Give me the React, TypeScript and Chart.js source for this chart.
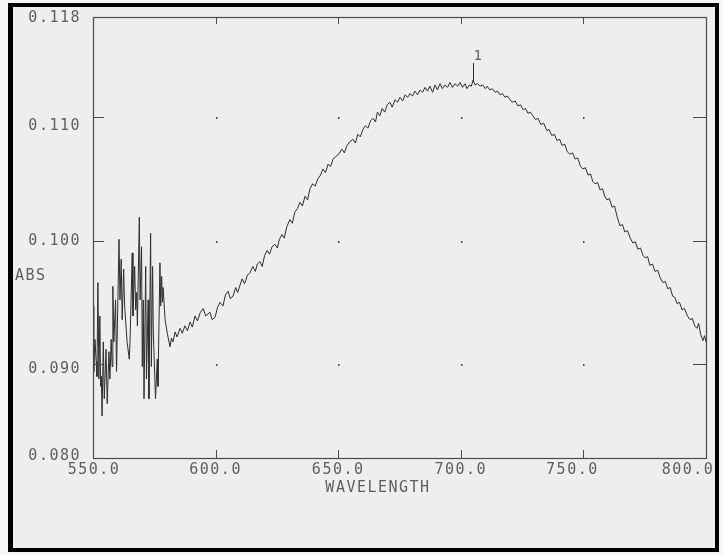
import React, { useEffect, useRef } from "react";
import { Chart, registerables } from "chart.js";

Chart.register(...registerables);

// ---- Data ----
const xTickValues = [550, 600, 650, 700, 750, 800];
const yTickValues = [0.0824, 0.09, 0.1, 0.11, 0.1181];
const yTickLabels = ["0.080", "0.090", "0.100", "0.110", "0.118"];
const xAxisTitle = "WAVELENGTH";
const yAxisTitle = "ABS";
const peakWavelength = 705.0;
const peakAbs = 0.113;
const peakLabel = "1";

// noisy start of the scan (550 – 578 nm)
const noiseWavelength = [
  550.0, 550.3, 550.8, 551.3, 551.6, 552.0, 552.4, 552.8, 553.1, 553.4, 553.7,
  554.2, 554.6, 555.3, 555.8, 556.5, 556.9, 557.4, 557.8, 558.1, 558.5, 559.2,
  559.6, 560.6, 561.0, 561.5, 561.9, 562.5, 562.9, 563.9, 564.8, 565.1, 566.0,
  566.3, 567.0, 567.4, 567.8, 568.1, 568.9, 569.2, 569.8, 570.1, 570.5, 570.8,
  571.5, 571.8, 572.5, 572.8, 573.5, 573.8, 574.3, 574.6, 575.5, 576.2, 576.5,
  577.3, 577.6, 578.0, 578.3, 578.6,
];
const noiseAbs = [
  0.0947, 0.0894, 0.092, 0.0902, 0.089, 0.0966, 0.0888, 0.0939, 0.0882, 0.089, 0.0858,
  0.0918, 0.0872, 0.0912, 0.0868, 0.091, 0.0888, 0.092, 0.0898, 0.0963, 0.0918, 0.0952,
  0.0894, 0.1001, 0.0952, 0.0985, 0.0936, 0.0977, 0.0947, 0.0918, 0.0904, 0.0918, 0.099,
  0.0939, 0.0979, 0.0944, 0.0958, 0.0931, 0.1019, 0.0952, 0.0995, 0.0898, 0.0952, 0.0872,
  0.0979, 0.0888, 0.0952, 0.0872, 0.1006, 0.0898, 0.0979, 0.0926, 0.0872, 0.0904, 0.0882,
  0.0982, 0.0947, 0.0971, 0.095, 0.0962,
];

// absorption band (579 – 800 nm)
const bandWavelength = [
  579.4, 580.3, 581.4, 582.0, 582.6, 583.5, 584.3, 585.5, 586.4, 587.5, 588.5, 589.6,
  590.5, 591.6, 592.6, 593.8, 594.9, 596.0, 597.7, 598.6, 599.8, 600.8, 601.8, 603.0,
  604.0, 605.1, 606.0, 607.1, 608.2, 609.0, 610.8, 611.8, 613.0, 614.0, 615.2, 616.2,
  617.0, 618.1, 619.0, 620.0, 621.0, 622.0, 623.0, 624.2, 625.2, 626.0, 627.1, 628.0,
  629.0, 630.3, 631.3, 632.3, 633.4, 634.4, 635.4, 636.5, 637.5, 638.5, 639.6, 640.6,
  641.7, 642.8, 643.8, 644.8, 645.9, 646.9, 647.9, 649.0, 650.2, 651.5, 652.5, 653.6,
  654.7, 656.0, 657.0, 658.0, 659.0, 660.1, 661.1, 662.1, 663.2, 664.2, 665.2, 666.0,
  667.0, 667.9, 669.0, 670.0, 671.1, 672.0, 673.2, 674.2, 675.2, 676.3, 677.3, 678.3,
  679.3, 680.3, 681.3, 682.4, 683.4, 684.4, 685.4, 686.4, 687.4, 688.5, 689.5, 690.5,
  691.5, 692.5, 693.6, 694.6, 695.6, 696.6, 697.6, 698.7, 699.7, 700.7, 701.7, 702.5,
  703.5, 704.3, 705.0, 705.8, 706.8, 707.9, 708.9, 710.0, 710.7, 711.8, 712.8, 714.0,
  715.0, 716.0, 717.0, 718.0, 719.0, 720.1, 721.0, 722.2, 723.3, 724.3, 725.4, 726.4,
  727.4, 728.4, 729.4, 730.5, 731.5, 732.6, 733.8, 735.1, 736.0, 737.1, 738.2, 739.2,
  740.3, 741.3, 742.4, 743.4, 744.5, 745.6, 746.6, 747.7, 748.8, 749.8, 750.8, 751.9,
  752.9, 753.8, 754.7, 755.8, 756.8, 757.8, 758.7, 759.6, 760.6, 761.7, 762.7, 763.8,
  764.9, 765.9, 766.9, 768.0, 769.1, 770.2, 771.2, 772.2, 773.3, 774.3, 775.2, 776.2,
  777.1, 778.2, 779.2, 780.3, 781.3, 782.4, 783.4, 784.4, 785.4, 786.4, 787.3, 788.2,
  789.2, 790.2, 791.2, 792.4, 793.5, 794.4, 795.4, 796.3, 797.0, 797.8, 798.8, 799.4,
  800.0,
];
const bandAbs = [
  0.0936, 0.0925, 0.0914, 0.0921, 0.0918, 0.0926, 0.0922, 0.0929, 0.0925, 0.0931, 0.0927, 0.0934,
  0.093, 0.0939, 0.0935, 0.0942, 0.0945, 0.0939, 0.0942, 0.0936, 0.0938, 0.0946, 0.095, 0.0947,
  0.0956, 0.0959, 0.0953, 0.0955, 0.0962, 0.0958, 0.0969, 0.0965, 0.0972, 0.0974, 0.0979, 0.0975,
  0.0981, 0.0983, 0.0979, 0.0988, 0.0992, 0.0989, 0.0995, 0.0997, 0.0994, 0.1001, 0.1005, 0.1002,
  0.1011, 0.1017, 0.1014, 0.1023, 0.1026, 0.1031, 0.1028, 0.1036, 0.1033, 0.1042, 0.1046, 0.1044,
  0.105, 0.1053, 0.1058, 0.1055, 0.1062, 0.106, 0.1066, 0.1068, 0.107, 0.1074, 0.1071, 0.1077,
  0.108, 0.1082, 0.1079, 0.1086, 0.1084, 0.109, 0.1093, 0.1091, 0.1097, 0.1099, 0.1096, 0.1104,
  0.1101, 0.1107, 0.1104, 0.111, 0.1112, 0.1108, 0.1114, 0.1112, 0.1116, 0.1113, 0.1118, 0.1116,
  0.1119, 0.1117, 0.1121, 0.1118, 0.1122, 0.112, 0.1124, 0.1121, 0.1125, 0.112, 0.1126, 0.1122,
  0.1127, 0.1123, 0.1126, 0.1124, 0.1128, 0.1124, 0.1127, 0.1125, 0.1128, 0.1124, 0.1127, 0.1123,
  0.1126, 0.1125, 0.113, 0.1126, 0.1127, 0.1125, 0.1126, 0.1123, 0.1125, 0.1122, 0.1123, 0.112,
  0.1121, 0.1118, 0.1119, 0.1116, 0.1117, 0.1114, 0.1112, 0.1113, 0.1109, 0.111, 0.1106, 0.1107,
  0.1103, 0.1104, 0.1101, 0.1098, 0.1099, 0.1094, 0.1095, 0.1089, 0.109, 0.1085, 0.1086, 0.1081,
  0.1082, 0.1077, 0.1078, 0.1072, 0.107, 0.1071, 0.1066, 0.1067, 0.106, 0.1058, 0.1059, 0.1053,
  0.1054, 0.1048, 0.1046, 0.1047, 0.1041, 0.1042, 0.1036, 0.1033, 0.1034, 0.1027, 0.1028, 0.1019,
  0.1012, 0.1013, 0.1007, 0.1008, 0.1002, 0.0998, 0.0999, 0.0993, 0.0994, 0.0988, 0.0986, 0.0987,
  0.098, 0.0981, 0.0975, 0.0976, 0.097, 0.0966, 0.0967, 0.0961, 0.0962, 0.0955, 0.0954, 0.0949,
  0.095, 0.0944, 0.0945, 0.0939, 0.0936, 0.0937, 0.0931, 0.0929, 0.0933, 0.0924, 0.0919, 0.0923,
  0.0918,
];

// ---- styling (not data) ----
const FONT = "'DejaVu Sans Mono', 'Liberation Mono', monospace";
const INK = "#2e2e2e";
const TEXT = "#5e5e5e";
const AXIS = "#4a4a4a";
const W = 723;
const H = 555;
const X_LABEL_NUDGE = [1, 0, 0, 0, -11, -18];
const Y_LABEL_NUDGE = [-2, 5, 1, 9, 1];

const paperPlugin = {
  id: "paper",
  beforeDraw(chart: any) {
    const ctx = chart.ctx;
    ctx.save();
    ctx.fillStyle = "#f6f6f4";
    ctx.fillRect(0, 0, W, H);
    ctx.fillStyle = "#eeeeec";
    ctx.fillRect(12, 7, 704, 542);
    ctx.fillStyle = "#000";
    ctx.fillRect(8, 3, 5, H - 6); // left
    ctx.fillRect(8, 3, W - 13, 4); // top
    ctx.fillRect(W - 8, 3, 4, H - 6); // right
    ctx.fillRect(8, H - 7, W - 12, 4); // bottom
    ctx.restore();
    // printer-like wide letter spacing for all text
    try {
      (ctx as any).letterSpacing = "1.5px";
    } catch (e) {}
    // nudge tick label positions to match the plotter output
    try {
      const xi = chart.scales.x.getLabelItems(chart.chartArea);
      xi.forEach((it: any, i: number) => {
        it.options.translation[0] += X_LABEL_NUDGE[i] || 0;
      });
      const yi = chart.scales.y.getLabelItems(chart.chartArea);
      yi.forEach((it: any, i: number) => {
        it.options.translation[1] += Y_LABEL_NUDGE[i] || 0;
      });
    } catch (e) {}
  },
  afterDraw(chart: any) {
    const ctx = chart.ctx;
    const { left, right, top, bottom } = chart.chartArea;
    const xs = chart.scales.x;
    const ys = chart.scales.y;
    ctx.save();
    // frame
    ctx.strokeStyle = AXIS;
    ctx.lineWidth = 1.2;
    ctx.strokeRect(left + 0.5, top + 0.5, right - left, bottom - top);
    // inward ticks & grid dots
    ctx.lineWidth = 1;
    const innerX = xTickValues.slice(1, -1);
    const innerY = yTickValues.slice(1, -1);
    innerX.forEach((v) => {
      const px = Math.round(xs.getPixelForValue(v)) + 0.5;
      ctx.beginPath();
      ctx.moveTo(px, bottom);
      ctx.lineTo(px, bottom - 8);
      ctx.moveTo(px, top);
      ctx.lineTo(px, top + 7);
      ctx.stroke();
    });
    innerY.forEach((v) => {
      const py = Math.round(ys.getPixelForValue(v)) + 0.5;
      ctx.beginPath();
      ctx.moveTo(left, py);
      ctx.lineTo(left + 11, py);
      ctx.moveTo(right, py);
      ctx.lineTo(right - 13, py);
      ctx.stroke();
    });
    ctx.fillStyle = AXIS;
    innerX.forEach((xv) => {
      innerY.forEach((yv) => {
        ctx.fillRect(Math.round(xs.getPixelForValue(xv)), Math.round(ys.getPixelForValue(yv)), 1.5, 2);
      });
    });
    // peak marker
    const pxp = Math.round(xs.getPixelForValue(peakWavelength)) + 0.5;
    const pyp = ys.getPixelForValue(peakAbs);
    ctx.strokeStyle = INK;
    ctx.beginPath();
    ctx.moveTo(pxp, pyp);
    ctx.lineTo(pxp, pyp - 17);
    ctx.stroke();
    ctx.fillStyle = TEXT;
    ctx.font = `14px ${FONT}`;
    ctx.textAlign = "center";
    ctx.textBaseline = "alphabetic";
    ctx.fillText(peakLabel, pxp + 5, pyp - 20);
    // axis titles
    ctx.font = `15px ${FONT}`;
    ctx.textAlign = "left";
    ctx.textBaseline = "middle";
    ctx.fillText(yAxisTitle, 15, 276);
    ctx.textAlign = "center";
    ctx.fillText(xAxisTitle, 378, 488);
    ctx.restore();
  },
};

export default function App() {
  const ref = useRef<HTMLCanvasElement | null>(null);

  useEffect(() => {
    if (!ref.current) return;
    const points = [
      ...noiseWavelength.map((x, i) => ({ x, y: noiseAbs[i] })),
      ...bandWavelength.map((x, i) => ({ x, y: bandAbs[i] })),
    ];
    const chart = new Chart(ref.current, {
      type: "line",
      data: {
        datasets: [
          {
            label: yAxisTitle,
            data: points,
            borderColor: INK,
            borderWidth: 1,
            pointRadius: 0,
            tension: 0,
            fill: false,
          },
        ],
      },
      options: {
        responsive: false,
        animation: false,
        layout: { padding: { left: 0, right: 17, top: 17, bottom: 0 } },
        plugins: { legend: { display: false }, tooltip: { enabled: false } },
        scales: {
          x: {
            type: "linear",
            min: 550,
            max: 800,
            afterBuildTicks: (scale: any) => {
              scale.ticks = xTickValues.map((v) => ({ value: v }));
            },
            afterFit: (scale: any) => {
              scale.height = 97;
              scale.paddingLeft = 0;
              scale.paddingRight = 0;
            },
            grid: { display: false, drawTicks: false },
            border: { display: false },
            ticks: {
              autoSkip: false,
              maxRotation: 0,
              padding: 3,
              color: TEXT,
              font: { family: FONT, size: 15 },
              callback: (v: any) => Number(v).toFixed(1),
            },
          },
          y: {
            type: "linear",
            min: yTickValues[0],
            max: yTickValues[yTickValues.length - 1],
            afterBuildTicks: (scale: any) => {
              scale.ticks = yTickValues.map((v) => ({ value: v }));
            },
            afterFit: (scale: any) => {
              scale.width = 93;
              scale.paddingTop = 0;
              scale.paddingBottom = 0;
            },
            grid: { display: false, drawTicks: false },
            border: { display: false },
            ticks: {
              autoSkip: false,
              padding: 12,
              color: TEXT,
              font: { family: FONT, size: 15 },
              callback: (_v: any, i: number) => yTickLabels[i],
            },
          },
        },
      },
      plugins: [paperPlugin],
    });
    return () => chart.destroy();
  }, []);

  return (
    <div style={{ position: "fixed", left: 0, top: 0, width: W, height: H }}>
      <canvas ref={ref} width={W} height={H} style={{ width: W, height: H, display: "block" }} />
    </div>
  );
}
